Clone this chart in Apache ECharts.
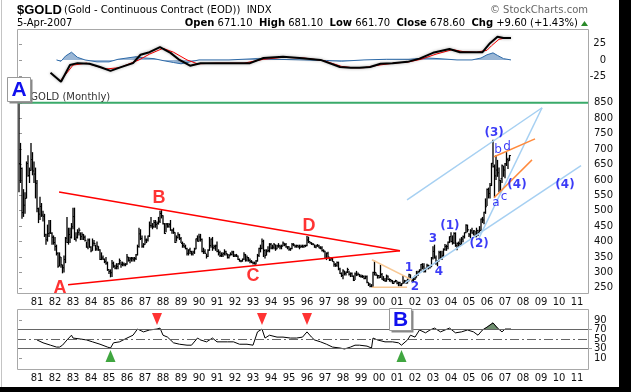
<!DOCTYPE html>
<html><head><meta charset="utf-8">
<script src="https://cdn.jsdelivr.net/npm/echarts@6/dist/echarts.min.js"></script>
<style>html,body{margin:0;padding:0;background:#fff;}#c{width:631px;height:392px;}</style>
</head><body><div id="c"></div>
<script>
// ---------- DATA (month index 0 = Jan 1980) ----------
const yearLabels = ['81','82','83','84','85','86','87','88','89','90','91','92','93','94','95','96','97','98','99','00','01','02','03','04','05','06','07','08','09','10','11'];
const priceTicks = [250,300,350,400,450,500,550,600,650,700,750,800,850];
const macdTicks = [25,0,-25];
const rsiTicksA = [10,50,90];
const rsiTicksB = [30,70];

const high = [
 850,720,640,570,560,660,680,640,720,690,660,640, // 1980
 600,510,545,525,500,490,425,455,470,470,430,420, // 1981
 415,390,365,365,350,325,355,415,480,445,445,460, // 1982
 510,510,430,440,445,430,430,425,420,400,410,410, // 1983
 385,410,405,390,400,385,375,365,355,345,350,335, // 1984
 310,310,340,335,325,330,330,345,335,335,332,330, // 1985
 360,350,350,350,350,350,360,390,445,440,420,395, // 1986
 420,410,420,465,480,460,470,470,465,480,500,502, // 1987
 485,460,460,460,460,470,440,445,430,420,430,425, // 1988
 415,400,395,390,380,375,380,370,370,380,410,420, // 1989
 425,425,410,380,375,360,375,415,410,415,390,390, // 1990
 400,375,370,365,365,375,370,360,360,365,370,370, // 1991
 360,360,355,345,340,345,365,360,355,350,345,340, // 1992
 335,335,340,360,380,390,410,406,375,375,385,395, // 1993
 395,390,395,390,390,395,390,390,400,395,395,385, // 1994
 385,380,395,395,390,390,390,390,390,390,390,390, // 1995
 418,416,400,398,395,390,390,392,390,385,385,375, // 1996
 370,365,367,350,350,348,335,330,335,335,315,300, // 1997
 310,305,303,315,305,300,300,290,300,305,300,295, // 1998
 293,292,290,290,290,268,265,262,302,338,300,292, // 1999
 292,325,298,288,282,293,290,281,277,275,272,276, // 2000
 273,270,270,265,292,276,275,280,296,293,280,282, // 2001
 290,305,305,310,327,330,330,315,328,325,323,350, // 2002
 385,390,355,340,370,370,370,378,392,390,400,417, // 2003
 430,420,430,430,397,400,410,415,420,430,456,455, // 2004
 428,440,445,437,435,445,438,450,475,480,497,540, // 2005
 572,575,590,655,730,650,680,665,640,600,650,645, // 2006
 655,690,672,681                                  // 2007
];
const low = [
 560,590,474,480,490,540,610,590,630,615,590,540,
 495,460,470,480,465,415,390,400,415,425,390,390,
 370,355,315,320,315,297,300,330,395,390,395,410,
 440,405,400,410,420,405,405,405,400,380,375,380,
 365,370,385,370,370,370,340,340,340,330,325,305,
 295,284,285,315,310,310,310,325,315,320,320,320,
 325,335,330,335,335,335,340,355,380,405,380,380,
 390,395,400,415,445,440,445,445,440,455,460,475,
 455,425,430,445,445,435,425,425,395,400,410,405,
 395,380,380,375,355,355,360,355,355,360,375,400,
 400,400,365,360,360,345,350,370,380,370,375,370,
 365,355,350,350,350,355,355,345,345,355,355,350,
 350,350,340,335,333,335,340,335,335,335,330,330,
 326,326,326,335,350,365,375,350,345,355,365,365,
 375,375,375,370,375,380,375,375,385,385,380,375,
 370,370,375,385,380,380,380,375,380,380,380,382,
 385,395,393,389,388,380,378,383,378,375,368,365,
 345,340,345,337,338,335,318,318,318,307,295,285,
 278,290,290,298,290,285,285,272,275,288,290,285,
 283,282,278,278,265,256,252,252,253,290,288,280,
 280,282,276,272,270,270,275,270,268,263,263,268,
 262,255,255,255,263,265,263,264,271,277,270,270,
 275,283,288,298,305,310,300,300,310,310,313,317,
 342,345,325,320,335,342,340,350,370,370,375,395,
 398,390,392,383,372,382,385,388,398,410,427,430,
 415,410,425,420,414,414,418,425,435,460,456,490,
 515,540,540,580,640,543,600,610,560,560,590,610,
 605,645,635,662
];
const close = [
 653,637,494,518,540,653,614,631,666,629,619,589,
 507,489,514,486,482,422,406,426,428,427,414,397,
 384,362,320,350,325,315,342,411,397,423,414,448,
 481,408,414,430,437,416,422,414,404,382,405,382,
 370,395,394,376,385,373,342,347,343,335,330,309,
 303,299,330,320,314,319,328,338,326,327,325,327,
 350,339,344,346,343,345,357,384,425,410,385,390,
 405,405,418,452,451,448,462,455,459,466,491,484,
 458,426,457,450,455,437,437,430,397,413,422,410,
 394,387,383,377,362,373,368,360,366,376,409,401,
 415,407,368,367,362,352,372,387,408,380,384,386,
 368,364,355,357,361,367,361,348,354,358,366,353,
 354,353,342,337,337,343,357,340,348,339,335,333,
 330,327,337,355,378,378,401,371,355,369,371,391,
 379,382,390,376,386,386,383,385,395,390,383,383,
 375,377,391,389,385,387,383,382,384,383,387,387,
 405,400,396,392,391,382,386,386,379,379,371,369,
 346,362,350,340,345,335,326,323,332,311,296,290,
 305,297,301,309,294,297,288,274,295,292,294,288,
 287,287,280,286,268,262,255,254,300,300,292,290,
 284,293,278,275,272,288,277,277,274,264,270,273,
 265,267,258,263,266,271,266,273,293,279,275,278,
 282,297,302,308,326,318,304,312,323,316,319,347,
 368,347,335,337,364,346,354,375,384,384,398,416,
 400,396,426,387,394,394,391,408,416,429,453,438,
 422,435,428,435,417,436,429,436,473,470,495,513,
 569,556,582,654,643,613,632,623,599,604,646,632,
 652,666,662,679
];

// MACD panel: [month, value]
const macdLine = [[21,-20],[28,-34],[34,-8],[39,-5],[47,-6],[54,-11],[61,-17],[67,-12],[76,-5],[81,8],[87,12],[94,20],[101,11],[107,0],[114,-9],[121,-5],[132,-5],[143,-5],[154,-5],[163,3],[176,5],[187,3],[201,0],[214,-11],[221,-12],[227,-12],[234,-11],[241,-6],[249,-5],[259,-3],[267,2],[276,11],[287,17],[294,12],[303,12],[309,12],[314,26],[319,36],[323,34],[328,34]];
const signalLine = [[28,-31],[32,-20],[36,-8],[45,-5],[58,-14],[67,-12],[80,0],[87,9],[96,18],[103,12],[112,0],[119,-6],[132,-5],[150,-5],[163,1],[176,4],[190,3],[203,-1],[215,-10],[222,-12],[230,-12],[240,-8],[250,-5],[260,-3],[268,1],[278,9],[289,16],[296,13],[305,12],[312,15],[315,22],[320,32],[324,34],[328,34]];
const histogram = [[25,0],[28,-2],[31,6],[35,12],[39,4],[44,0],[52,-3],[60,-3],[66,1],[72,3],[78,5],[84,3],[90,2],[96,-1],[103,-4],[108,-6],[114,-3],[120,0],[140,0],[158,2],[170,1],[190,0],[205,-1],[215,-2],[230,0],[245,1],[260,1],[272,3],[280,2],[292,0],[302,0],[308,3],[312,8],[316,11],[319,7],[323,2],[328,0]];

// RSI panel: [month, value]
const rsi = [[12,48],[16,42],[21,37],[25,33],[27,33],[29,37],[32,48],[35,58],[36,52],[41,50],[45,48],[49,44],[54,39],[59,33],[61,31],[63,42],[67,44],[72,52],[76,58],[79,71],[83,65],[87,69],[92,71],[94,73],[96,58],[99,54],[103,42],[107,39],[112,37],[115,37],[119,52],[121,48],[125,44],[129,52],[132,44],[139,44],[143,44],[147,39],[152,39],[156,37],[159,65],[162,71],[164,52],[167,58],[172,54],[176,54],[181,52],[185,52],[189,54],[192,65],[195,54],[197,48],[201,44],[205,39],[209,33],[214,31],[217,29],[221,33],[224,37],[227,37],[232,35],[235,31],[236,52],[239,48],[244,44],[249,44],[253,42],[255,37],[259,48],[261,58],[264,54],[267,69],[271,63],[274,69],[277,73],[281,65],[284,69],[287,73],[291,63],[295,65],[299,69],[303,65],[306,58],[309,69],[312,75],[316,84],[319,73],[322,65],[324,71],[328,71]];
const rsiOverbought = [[309.6,70],[312,75],[316,84],[319,73],[319.3,70]];
const rsiSellSignals = [[92,92],[162,92],[192,92]];
const rsiBuySignals = [[61,14],[255,14]];

// Trendlines on price panel: [month, price]
const redUpper = [[26.7,561],[254,370]];
const redLower = [[32.7,260],[254,370]];
const blueUpper = [[258.7,535],[348.7,834]];
const blueLower = [[257.3,266],[374.7,646]];
const blueSteep = [[306.7,412],[348.7,834]];
const orangeUpper = [[316.7,675],[344,733]];
const orangeLower = [[316.7,542],[342,665]];
const peachDiag = [[235.3,341],[262,276]];
const peachFlat = [[235.3,252],[258.7,252]];
const level850 = [[-4/3,850],[380,850]];

// Wave labels: [text, month, price]
const redTags = [['A',27.3,250],['B',93.3,542],['C',156,289],['D',193.3,451]];
const blueNumTags = [['1',260,315],['2',264,253],['3',276,409],['4',280,302],['(1)',287.3,451],['(2)',306.7,393],['(3)',316.7,753],['(4)',332,584],['(4)',364,584]];
const blueLetterTags = [['a',318,526],['b',319.3,698],['c',323.3,545],['d',325.3,707]];

// ---------- CHART ----------
const XMIN = -4/3, XMAX = 380;
const FONT = 'DejaVu Sans';
const bars = high.map((h,i)=>[i,h,low[i],close[i]]);

function xAxis(g, show, margin){
  return {type:'value', gridIndex:g, min:XMIN, max:XMAX,
    axisLine:{show:false}, axisTick:{show:false}, splitLine:{show:false},
    axisLabel:{show:show, customValues: yearLabels.map((_,i)=>12*(i+1)),
      formatter:v=>yearLabels[Math.round(v/12)-1], margin:margin,
      showMinLabel:true, showMaxLabel:true,
      fontFamily:FONT, fontSize:10, color:'#111'}};
}
function yAxis(g, min, max, ticks, align, margin){
  return {type:'value', gridIndex:g, position:'right', min:min, max:max,
    axisLine:{show:false}, splitLine:{show:false},
    axisTick:{show:true, inside:false, length:3, customValues:ticks, lineStyle:{color:'#999'}},
    axisLabel:{customValues:ticks, align:align, margin:margin, showMinLabel:true, showMaxLabel:true,
      hideOverlap:false, fontFamily:FONT, fontSize:10, color:'#111'}};
}
function seg(data, color, g, w){
  return {type:'line', xAxisIndex:g, yAxisIndex:g, data:data, showSymbol:false, silent:true,
    lineStyle:{color:color, width:w||1.5}, z:4};
}
function tags(list, color, size, weight, family, g){
  return {type:'scatter', xAxisIndex:g, yAxisIndex:g, symbolSize:1, silent:true, z:8,
    itemStyle:{color:'rgba(0,0,0,0)'},
    data:list.map(t=>({name:t[0], value:[t[1],t[2]]})),
    label:{show:true, position:'inside', formatter:p=>p.name, color:color,
      fontSize:size, fontWeight:weight, fontFamily:family,
      align:'center', verticalAlign:'middle'}};
}

const chart = echarts.init(document.getElementById('c'), null, {renderer:'canvas'});
chart.setOption({
  animation:false,
  backgroundColor:'#fff',
  grid:[
    {left:17, width:572, top:29, height:58},
    {left:17, width:572, top:87.4, height:206.6},
    {left:17, width:572, top:309, height:61}
  ],
  xAxis:[xAxis(0,false,0), xAxis(1,true,3), xAxis(2,true,3)],
  yAxis:[
    yAxis(0,-42,48,macdTicks,'right',17),
    yAxis(1,230,900,priceTicks,'left',5),
    yAxis(2,-15.3,113.2,rsiTicksA,'left',5),
    yAxis(2,-15.3,113.2,rsiTicksB,'left',5)
  ],
  series:[
    // MACD
    {type:'line', xAxisIndex:0, yAxisIndex:0, data:histogram, showSymbol:false, silent:true,
      lineStyle:{color:'#2e6aa8', width:1}, areaStyle:{color:'rgba(62,116,176,0.75)'}, z:3},
    {type:'line', xAxisIndex:0, yAxisIndex:0, data:signalLine, showSymbol:false, silent:true,
      lineStyle:{color:'#ff0000', width:1}, z:4},
    {type:'line', xAxisIndex:0, yAxisIndex:0, data:macdLine, showSymbol:false, silent:true,
      lineStyle:{color:'#000', width:2, shadowColor:'rgba(0,0,0,0.35)', shadowBlur:3}, z:5},
    // Price bars
    {type:'custom', xAxisIndex:1, yAxisIndex:1, data:bars, silent:true, z:3,
      encode:{x:0, y:[1,2,3]},
      renderItem:function(params, api){
        const x=api.value(0);
        const p1=api.coord([x,api.value(1)]), p2=api.coord([x,api.value(2)]), pc=api.coord([x,api.value(3)]);
        return {type:'group', children:[
          {type:'line', shape:{x1:p1[0],y1:p1[1],x2:p2[0],y2:p2[1]}, style:{stroke:'#000',lineWidth:1.3}},
          {type:'line', shape:{x1:pc[0],y1:pc[1],x2:pc[0]+1.5,y2:pc[1]}, style:{stroke:'#000',lineWidth:1}}
        ]};
      }},
    seg(level850,'#3aaa6a',1,2),
    seg(redUpper,'#ff0000',1,1.5),
    seg(redLower,'#ff0000',1,1.5),
    seg(blueUpper,'#a6d0f2',1,1.5),
    seg(blueLower,'#a6d0f2',1,1.5),
    seg(blueSteep,'#a6d0f2',1,1.5),
    seg(orangeUpper,'#ff8a3c',1,1.5),
    seg(orangeLower,'#ff8a3c',1,1.5),
    seg(peachDiag,'#f8c894',1,1.5),
    seg(peachFlat,'#f8c894',1,1.5),
    tags(redTags,'#ff0000',18,'bold','Liberation Sans',1),
    tags(blueNumTags,'#0a0af5',12,'bold','DejaVu Sans',1),
    tags(blueLetterTags,'#0a0af5',12,'normal','DejaVu Sans',1),
    // RSI
    {type:'custom', xAxisIndex:2, yAxisIndex:2, data:[0], silent:true, z:2,
      renderItem:function(params, api){
        const pts = rsiOverbought.map(p=>api.coord(p));
        return {type:'polygon', shape:{points:pts}, style:{fill:'#6f8f6f', stroke:'#555', lineWidth:0.5}};
      }},
    {type:'line', xAxisIndex:2, yAxisIndex:2, data:rsi, showSymbol:false, silent:true,
      lineStyle:{color:'#000', width:1}, z:4,
      markLine:{silent:true, symbol:'none', label:{show:false},
        data:[
          {yAxis:70, lineStyle:{color:'#666', width:1, type:'solid'}},
          {yAxis:30, lineStyle:{color:'#666', width:1, type:'solid'}},
          {yAxis:50, lineStyle:{color:'#666', width:1, type:[9,3,2,3]}}
        ]}},
    {type:'scatter', xAxisIndex:2, yAxisIndex:2, data:rsiSellSignals, symbol:'triangle', symbolRotate:180,
      symbolSize:[10,12], itemStyle:{color:'#ff0000'}, silent:true, z:6},
    {type:'scatter', xAxisIndex:2, yAxisIndex:2, data:rsiBuySignals, symbol:'triangle',
      symbolSize:[10,12], itemStyle:{color:'#109010'}, silent:true, z:6}
  ],
  graphic:[
    {type:'rect', z:-10, shape:{x:0,y:0,width:631,height:392}, style:{fill:'#fff'}},
    {type:'rect', z:0, shape:{x:619,y:0,width:12,height:392}, style:{fill:'#000'}},
    {type:'rect', z:0, shape:{x:0,y:387,width:631,height:5}, style:{fill:'#000'}},
    {type:'line', z:0, shape:{x1:1.5,y1:0,x2:1.5,y2:387}, style:{stroke:'#c4c4c4',lineWidth:1}},
    {type:'rect', z:10, shape:{x:17.5,y:29.5,width:571,height:264}, style:{fill:null,stroke:'#a8a8a8',lineWidth:1}},
    {type:'rect', z:10, shape:{x:17.5,y:309.5,width:571,height:60}, style:{fill:null,stroke:'#a8a8a8',lineWidth:1}},
    {type:'text', z:10, x:17, y:10, style:{text:'$GOLD', font:'bold 13px "Liberation Sans"', fill:'#000', verticalAlign:'middle', textVerticalAlign:'middle'}},
    {type:'text', z:10, x:64, y:10, style:{text:'(Gold - Continuous Contract (EOD))  INDX', font:'10px "DejaVu Sans"', fill:'#000', verticalAlign:'middle', textVerticalAlign:'middle'}},
    {type:'text', z:10, x:17, y:23.5, style:{text:'5-Apr-2007', font:'10px "DejaVu Sans"', fill:'#000', verticalAlign:'middle', textVerticalAlign:'middle'}},
    {type:'text', z:10, x:588, y:10, style:{text:'\u00a9 StockCharts.com', font:'10px "DejaVu Sans"', fill:'#666', align:'right', textAlign:'right', verticalAlign:'middle', textVerticalAlign:'middle'}},
    {type:'text', z:10, x:578, y:23.5, style:{
      text:'{b|Open} 671.10  {b|High} 681.10  {b|Low} 661.70  {b|Close} 678.60  {b|Chg} +9.60 (+1.43%)',
      font:'10px "DejaVu Sans"', fill:'#000', align:'right', textAlign:'right', verticalAlign:'middle', textVerticalAlign:'middle',
      rich:{b:{font:'bold 10px "DejaVu Sans"', fill:'#000'}}}},
    {type:'polygon', z:10, shape:{points:[[581,26],[588,26],[584.5,21]]}, style:{fill:'#2a8a2a'}},
    {type:'text', z:20, x:24, y:97, style:{text:'$GOLD (Monthly)', font:'10px "DejaVu Sans"', fill:'#333', verticalAlign:'middle', textVerticalAlign:'middle'}},
    // boxed wave labels
    {type:'rect', z:30, shape:{x:9.5,y:79.5,width:23,height:24}, style:{fill:'#888'}},
    {type:'rect', z:31, shape:{x:7.5,y:77.5,width:23,height:24}, style:{fill:'#fff',stroke:'#999',lineWidth:1}},
    {type:'text', z:32, x:19, y:90, style:{text:'A', font:'bold 21px "Liberation Sans"', fill:'#1010ee', align:'center', textAlign:'center', verticalAlign:'middle', textVerticalAlign:'middle'}},
    {type:'rect', z:30, shape:{x:391.5,y:310.5,width:22,height:22}, style:{fill:'#888'}},
    {type:'rect', z:31, shape:{x:389.5,y:308.5,width:22,height:22}, style:{fill:'#fff',stroke:'#999',lineWidth:1}},
    {type:'text', z:32, x:400.5, y:320, style:{text:'B', font:'bold 21px "Liberation Sans"', fill:'#1010ee', align:'center', textAlign:'center', verticalAlign:'middle', textVerticalAlign:'middle'}}
  ]
});
</script></body></html>
